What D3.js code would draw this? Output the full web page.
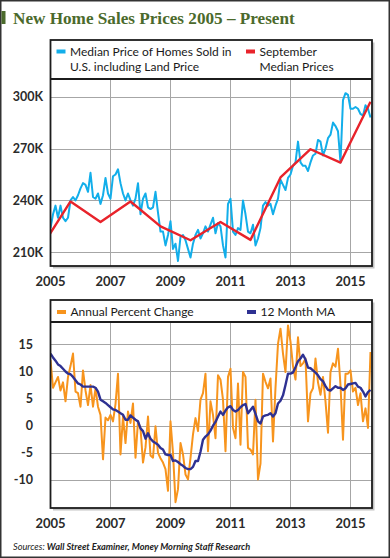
<!DOCTYPE html>
<html><head><meta charset="utf-8">
<script src="https://cdn.jsdelivr.net/npm/d3@7"></script>
<style>body{margin:0;background:#fff}svg{display:block}</style>
</head><body>
<svg id="c" width="390" height="558"></svg>
<script>
// ---------- DATA ----------
const startYear = 2005; // monthly series start January 2005
const medianPrice = [224,232,237,230,237,230,228,230,240,242,240,243,247,250,249,245,256,242,241,244,238,243,253,244,241,254,255,258,250,244,240,244,240,237,241,250,232,241,244,236,235,236,245,233,222,
222,214,220,228,212,215,205,219,220,217,212,207,215,220,223,218,221,225,222,226,230,221,227,225,214,207,238,241,222,220,224,223,240,232,222,221,226,214,218,224,237,239,
237,238,232,237,241,252,249,246,253,255,260,262,274,262,260,260,257,262,266,267,275,274,266,270,276,278,285,283,280,262,298,302,301,293,293,294,293,290,289,295,293,288];
const septYears = [2004,2005,2006,2007,2008,2009,2010,2011,2012,2013,2014,2015];
const septPrice = [212,239.4,227.5,239.4,225,217,227.5,217.2,253.3,269.6,261.9,297.1];
const annualChange = [12.1,7.0,8.0,9.0,6.5,8.0,4.5,9.0,11.0,13.3,
6.3,6.0,3.5,10.2,6.5,3.8,7.5,3.5,6.9,3.5,
2.0,-6.2,1.5,1.0,2.0,0.8,4.0,9.6,-5.3,1.7,
-3.2,2.6,0.5,4.1,-5.9,0.8,-0.5,-6.8,-4.0,1.7,
-5.5,-5.9,-0.1,-5.0,-6.0,-6.8,-8.0,-12.0,0.8,-5.0,
-14.1,-11.7,-3.2,-5.3,-9.0,-9.9,-6.0,-1.6,1.4,-1.0,
4.8,6.0,9.6,-4.7,4.5,2.0,-2.3,9.3,8.5,4.8,
-4.7,9.0,10.5,-0.4,-2.3,7.8,-3.5,9.9,9.0,-4.1,
-4.4,-5.3,4.8,-9.9,-7.0,9.6,8.1,6.9,8.7,-2.9,
7.0,15.1,17.9,13.3,9.9,18.5,15.5,11.0,8.5,16.3,
11.0,11.5,12.4,0.8,6.0,6.9,12.4,8.0,5.7,9.0,
4.5,-1.3,9.9,11.5,10.9,14.2,7.5,-2.6,9.6,9.6,
10.2,6.3,7.0,3.8,6.0,0.8,3.2,-0.4,13.6];
const movingAvg = [13.3,12.6,12.0,11.3,11.0,10.5,10.0,9.6,9.5,9.0,
8.4,7.8,7.6,7.2,7.2,7.2,7.2,7.2,7.0,6.3,
4.8,4.5,4.2,3.8,3.4,3.0,2.9,2.6,2.3,2.0,
1.1,1.1,1.9,1.5,1.1,0.8,-0.5,-1.0,-2.4,-1.4,
-2.4,-2.9,-3.2,-3.5,-4.1,-4.4,-5.3,-5.4,-5.4,-6.5,
-6.4,-6.7,-7.1,-7.4,-7.8,-8.0,-8.0,-7.6,-6.5,-6.5,
-4.8,-2.6,-2.0,-1.6,-0.9,0.0,0.7,1.7,2.6,2.0,
2.8,3.4,3.6,2.9,2.6,2.9,3.4,3.8,4.0,2.3,
2.9,3.5,2.2,0.8,0.4,1.7,1.9,2.0,2.3,1.7,
2.3,4.1,4.6,5.6,7.5,9.6,9.6,9.8,10.8,11.9,
12.4,13.1,12.2,10.7,10.6,10.2,9.8,9.3,8.6,8.2,
7.3,6.6,6.5,6.9,7.3,7.0,7.0,6.6,6.9,7.6,
7.7,7.8,7.9,7.2,7.0,6.3,5.4,6.2,6.6];
const xTicks = [2005,2007,2009,2011,2013,2015];
const priceTicks = [210,240,270,300];
const pctTicks = [-10,-5,0,5,10,15];

const titleText = "New Home Sales Prices 2005 \u2013 Present";

// ---------- DRAW ----------
const svg = d3.select("#c");
const C = {blue:"#12aeea", red:"#e8232b", orange:"#f7941d", navy:"#2e3192", green:"#4b6a2c", grid:"#a6a6a6", frame:"#1c1c1c"};
const L = 50.5, R = 372;
const x = d3.scaleLinear().domain([2005, 2015.717]).range([L, R]);
const toYear = i => startYear + i/12;

// outer frame
svg.append("rect").attr("x",0.75).attr("y",0.75).attr("width",388.5).attr("height",556.5)
  .attr("fill","#fff").attr("stroke","#333").attr("stroke-width",1.5);

// title
svg.append("rect").attr("x",1.5).attr("y",11).attr("width",4).attr("height",13).attr("fill",C.green);
const title = svg.append("text").attr("x",13).attr("y",23.5)
  .attr("font-family","'Liberation Serif', serif").attr("font-weight","bold")
  .attr("font-size",17).attr("fill",C.green).text(titleText);
const tw = title.node().getComputedTextLength();
title.attr("font-size", 17*282/tw);

function panel(cfg){
  const g = svg.append("g");
  const top = cfg.boxTop, legB = cfg.legBottom, bot = cfg.plotBottom;
  // shadow
  g.append("rect").attr("x",L+2.5).attr("y",top+2.5).attr("width",R-L).attr("height",bot-top).attr("fill","#c4c4c4");
  g.append("rect").attr("x",L).attr("y",top).attr("width",R-L).attr("height",bot-top).attr("fill","#fff");
  const y = d3.scaleLinear().domain(cfg.yDomain).range([bot, legB]);
  // grid
  g.append("g").selectAll("line").data(cfg.yTicks).join("line")
    .attr("x1",L).attr("x2",R).attr("y1",d=>Math.round(y(d))+0.5).attr("y2",d=>Math.round(y(d))+0.5)
    .attr("stroke",C.grid).attr("stroke-width",1);
  g.append("g").selectAll("line").data(xTicks.slice(1)).join("line")
    .attr("y1",legB).attr("y2",bot).attr("x1",d=>Math.round(x(d))+0.5).attr("x2",d=>Math.round(x(d))+0.5)
    .attr("stroke",C.grid).attr("stroke-width",1);
  // clip
  const cid = "clip"+cfg.id;
  svg.append("clipPath").attr("id",cid).append("rect").attr("x",L).attr("y",legB).attr("width",R-L).attr("height",bot-legB);
  const lg = g.append("g").attr("clip-path",`url(#${cid})`);
  cfg.series.forEach(s=>{
    const line = d3.line().x(d=>x(d[0])).y(d=>y(d[1]));
    lg.append("path").datum(s.data).attr("d",line).attr("fill","none")
      .attr("stroke",s.color).attr("stroke-width",s.w).attr("stroke-linejoin","round");
  });
  // frame
  g.append("rect").attr("x",L).attr("y",top).attr("width",R-L).attr("height",bot-top)
    .attr("fill","none").attr("stroke",C.frame).attr("stroke-width",1.8);
  g.append("line").attr("x1",L).attr("x2",R).attr("y1",legB).attr("y2",legB).attr("stroke",C.frame).attr("stroke-width",1.8);
  // y labels
  g.append("g").selectAll("text").data(cfg.yTicks).join("text")
    .attr("x",cfg.yLabelX).attr("y",d=>y(d)).attr("dy","0.36em").attr("text-anchor","end")
    .attr("font-family","Lato, sans-serif").attr("font-weight","bold").attr("font-size",12.5).attr("fill","#2b2b2b")
    .text(cfg.yFormat);
  // x labels
  g.append("g").selectAll("text").data(xTicks).join("text")
    .attr("x",d=>x(d)).attr("y",cfg.xLabelY).attr("text-anchor","middle")
    .attr("font-family","Lato, sans-serif").attr("font-weight","bold").attr("font-size",13).attr("fill","#2b2b2b")
    .text(d=>d);
  // legend
  cfg.legend.forEach(it=>{
    g.append("rect").attr("x",it.x).attr("y",it.sy).attr("width",9).attr("height",4).attr("fill",it.color);
    it.lines.forEach((t,i)=>{
      g.append("text").attr("x",it.x+13.5).attr("y",it.ty+i*15).attr("font-family","Lato, sans-serif")
        .attr("font-size",12).attr("fill","#1a1a1a").text(t);
    });
  });
}

panel({
  id:"top", boxTop:40, legBottom:79, plotBottom:266,
  yDomain:[202.1,310.2], yTicks:priceTicks, yLabelX:43, yFormat:d=>d+"K", xLabelY:285.5,
  series:[
    {data:medianPrice.map((v,i)=>[toYear(i),v]), color:C.blue, w:2},
    {data:septPrice.map((v,i)=>[septYears[i]+8/12,v]), color:C.red, w:2.4}
  ],
  legend:[
    {x:56.5, sy:49.5, ty:55.5, color:C.blue, lines:["Median Price of Homes Sold in","U.S. including Land Price"]},
    {x:246, sy:49.5, ty:55.5, color:C.red, lines:["September","Median Prices"]}
  ]
});

panel({
  id:"bot", boxTop:300, legBottom:322, plotBottom:508,
  yDomain:[-15.18,19.13], yTicks:pctTicks, yLabelX:33, yFormat:d=>d, xLabelY:528,
  series:[
    {data:annualChange.map((v,i)=>[toYear(i),v]), color:C.orange, w:2},
    {data:movingAvg.map((v,i)=>[toYear(i),v]), color:C.navy, w:2.4}
  ],
  legend:[
    {x:57, sy:310, ty:315.5, color:C.orange, lines:["Annual Percent Change"]},
    {x:247, sy:310, ty:315.5, color:C.navy, lines:["12 Month MA"]}
  ]
});

// source
const src = svg.append("text").attr("x",13).attr("y",550)
  .attr("font-family","Lato, sans-serif").attr("font-style","italic").attr("font-size",9.2).attr("fill","#222");
src.append("tspan").text("Sources: ");
src.append("tspan").attr("font-weight","bold").text("Wall Street Examiner, Money Morning Staff Research");
</script>
</body></html>
